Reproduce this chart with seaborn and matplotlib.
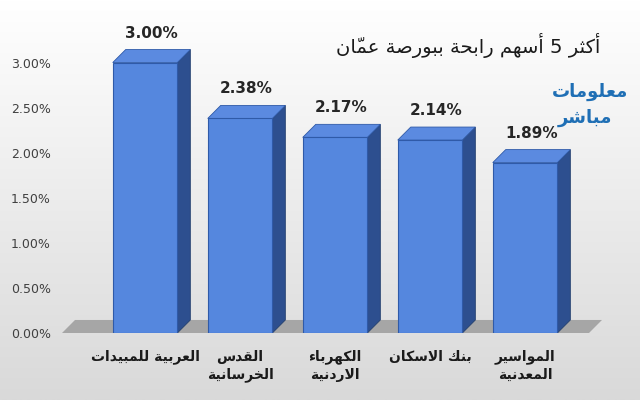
import matplotlib
matplotlib.use("Agg")
import matplotlib.pyplot as plt
import seaborn as sns
import numpy as np
import pandas as pd
from matplotlib.patches import Polygon
from matplotlib.ticker import FuncFormatter

categories = ["العربية للمبيدات", "القدس\nالخرسانية", "الكهرباء\nالاردنية", "بنك الاسكان", "المواسير\nالمعدنية"]
values = [3.00, 2.38, 2.17, 2.14, 1.89]
value_labels = ["3.00%", "2.38%", "2.17%", "2.14%", "1.89%"]
title_text = "أكثر 5 أسهم رابحة ببورصة عمّان"
logo_lines = ["معلومات", "مباشر"]

# --- minimal Arabic shaping (presentation forms) ---
FORMS = {
 'ء':(0xFE80,),'آ':(0xFE81,0xFE82),'أ':(0xFE83,0xFE84),'ؤ':(0xFE85,0xFE86),'إ':(0xFE87,0xFE88),
 'ئ':(0xFE89,0xFE8A,0xFE8B,0xFE8C),'ا':(0xFE8D,0xFE8E),'ب':(0xFE8F,0xFE90,0xFE91,0xFE92),
 'ة':(0xFE93,0xFE94),'ت':(0xFE95,0xFE96,0xFE97,0xFE98),'ث':(0xFE99,0xFE9A,0xFE9B,0xFE9C),
 'ج':(0xFE9D,0xFE9E,0xFE9F,0xFEA0),'ح':(0xFEA1,0xFEA2,0xFEA3,0xFEA4),'خ':(0xFEA5,0xFEA6,0xFEA7,0xFEA8),
 'د':(0xFEA9,0xFEAA),'ذ':(0xFEAB,0xFEAC),'ر':(0xFEAD,0xFEAE),'ز':(0xFEAF,0xFEB0),
 'س':(0xFEB1,0xFEB2,0xFEB3,0xFEB4),'ش':(0xFEB5,0xFEB6,0xFEB7,0xFEB8),'ص':(0xFEB9,0xFEBA,0xFEBB,0xFEBC),
 'ض':(0xFEBD,0xFEBE,0xFEBF,0xFEC0),'ط':(0xFEC1,0xFEC2,0xFEC3,0xFEC4),'ظ':(0xFEC5,0xFEC6,0xFEC7,0xFEC8),
 'ع':(0xFEC9,0xFECA,0xFECB,0xFECC),'غ':(0xFECD,0xFECE,0xFECF,0xFED0),'ف':(0xFED1,0xFED2,0xFED3,0xFED4),
 'ق':(0xFED5,0xFED6,0xFED7,0xFED8),'ك':(0xFED9,0xFEDA,0xFEDB,0xFEDC),'ل':(0xFEDD,0xFEDE,0xFEDF,0xFEE0),
 'م':(0xFEE1,0xFEE2,0xFEE3,0xFEE4),'ن':(0xFEE5,0xFEE6,0xFEE7,0xFEE8),'ه':(0xFEE9,0xFEEA,0xFEEB,0xFEEC),
 'و':(0xFEED,0xFEEE),'ى':(0xFEEF,0xFEF0),'ي':(0xFEF1,0xFEF2,0xFEF3,0xFEF4),
}
LAMALEF = {'ا':(0xFEFB,0xFEFC),'أ':(0xFEF7,0xFEF8),'إ':(0xFEF9,0xFEFA),'آ':(0xFEF5,0xFEF6)}
MARKS = set(chr(c) for c in range(0x064B, 0x0653))

def joins_left(ch):
    return ch in FORMS and len(FORMS[ch]) == 4

def shape_word(text):
    cl = []
    for ch in text:
        if ch in MARKS and cl:
            cl[-1][1] += ch
        else:
            cl.append([ch, ''])
    merged = []
    i = 0
    while i < len(cl):
        b, m = cl[i]
        if b == 'ل' and i + 1 < len(cl) and cl[i+1][0] in LAMALEF:
            merged.append(['LA' + cl[i+1][0], m + cl[i+1][1]])
            i += 2
        else:
            merged.append([b, m]); i += 1
    out = []
    n = len(merged)
    for i, (b, m) in enumerate(merged):
        prev = merged[i-1][0] if i > 0 else None
        nxt = merged[i+1][0] if i < n-1 else None
        pj = prev is not None and (joins_left(prev) if not prev.startswith('LA') else False)
        if b.startswith('LA'):
            f = LAMALEF[b[2:]]
            out.append(m + chr(f[1] if pj else f[0])); continue
        if b not in FORMS:
            out.append(m + b); continue
        f = FORMS[b]
        nj = nxt is not None and (nxt in FORMS or nxt.startswith('LA')) and joins_left(b)
        if len(f) == 1: g = f[0]
        elif len(f) == 2: g = f[1] if pj else f[0]
        else:
            if pj and nj: g = f[3]
            elif pj: g = f[1]
            elif nj: g = f[2]
            else: g = f[0]
        out.append(m + chr(g))
    return ''.join(reversed(out))

def ar(text):
    lines = []
    for line in text.split('\n'):
        words = line.split(' ')
        lines.append(' '.join(shape_word(w) for w in reversed(words)))
    return '\n'.join(lines)

# --- figure ---
fig = plt.figure(figsize=(6.4, 4.0), dpi=100)
bg = fig.add_axes([0, 0, 1, 1], zorder=-10)
grad = np.linspace(0, 1, 256).reshape(-1, 1)
bg.imshow(grad, aspect='auto', cmap=matplotlib.colors.LinearSegmentedColormap.from_list('g', ['#ffffff', '#d9d9d9']),
          extent=[0, 1, 0, 1])
bg.axis('off')

ax = fig.add_axes([62/640, 1-333/400, 540/640, (333-40)/400])
ax.patch.set_alpha(0)
df = pd.DataFrame({'cat': range(len(values)), 'val': values})
sns.barplot(data=df, x='cat', y='val', color='#4f7fd6', width=0.68, saturation=1,
            edgecolor='#2f5aa8', linewidth=0.8, ax=ax, zorder=3, native_scale=True)
ax.set_xlim(-0.874, 4.81)
ax.set_ylim(0, 3.25)
dx, dy = 13/95, 13/90

bars = list(ax.patches)
floor = Polygon([(-0.874, 0), (4.81 - dx, 0), (4.81, dy), (-0.874 + dx, dy)], closed=True,
                facecolor='#a6a6a6', edgecolor='none', zorder=1)
ax.add_patch(floor)

for p in bars:
    x0, w, h = p.get_x(), p.get_width(), p.get_height()
    x1 = x0 + w
    side = Polygon([(x1, 0), (x1 + dx, dy), (x1 + dx, h + dy), (x1, h)], closed=True,
                   facecolor='#2d4f8f', edgecolor='#23406f', linewidth=0.6, zorder=2)
    top = Polygon([(x0, h), (x1, h), (x1 + dx, h + dy), (x0 + dx, h + dy)], closed=True,
                  facecolor='#5b8ae0', edgecolor='#2f5aa8', linewidth=0.6, zorder=2)
    ax.add_patch(side); ax.add_patch(top)
    p.set_facecolor('#5587de')

for i, (v, lab) in enumerate(zip(values, value_labels)):
    ax.text(i + dx/2, v + dy + 0.1, lab, ha='center', va='bottom', fontsize=11,
            fontweight='bold', color='#262626', clip_on=False)

ax.yaxis.set_major_formatter(FuncFormatter(lambda y, _: f"{y:.2f}%"))
ax.set_yticks(np.arange(0, 3.01, 0.5))
ax.tick_params(axis='y', labelsize=9, colors='#404040', length=0, pad=8)
ax.set_xticks(range(len(categories)))
ax.set_xticklabels([ar(c) for c in categories], fontsize=10, fontweight='bold',
                   family='DejaVu Sans', color='#1a1a1a', linespacing=1.3)
ax.tick_params(axis='x', length=0, pad=12)
ax.set_xlabel(''); ax.set_ylabel('')
for s in ax.spines.values():
    s.set_visible(False)

fig.text(600/640, 1-45/400, ar(title_text), ha='right', va='center', fontsize=14,
         family='DejaVu Sans', color='#1a1a1a')
fig.text(590/640, 1-92/400, ar(logo_lines[0]), ha='center', va='center', fontsize=13,
         fontweight='bold', family='DejaVu Sans', color='#1f6fb5')
fig.text(585/640, 1-118/400, ar(logo_lines[1]), ha='center', va='center', fontsize=13,
         fontweight='bold', family='DejaVu Sans', color='#1f6fb5')

fig.savefig('out.png', dpi=100)
